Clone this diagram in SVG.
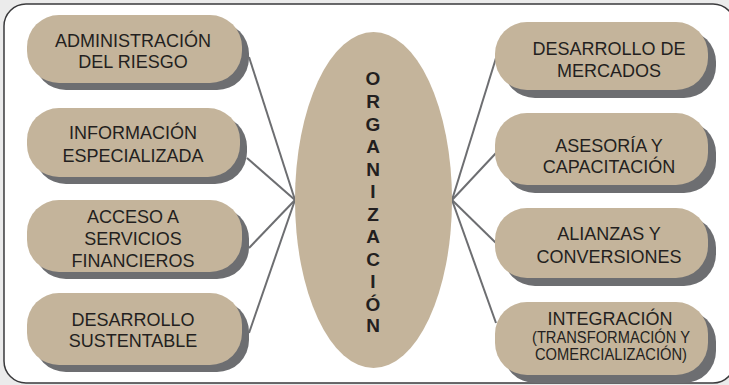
<svg xmlns="http://www.w3.org/2000/svg" width="729" height="385" viewBox="0 0 729 385">
<defs>
<style>
.bg{fill:#ebebeb}
.frame{fill:#ffffff;stroke:#3a3a3c;stroke-width:1.5}
.shadow{fill:#6d6e71}
.pill{fill:#c4b49b}
.lbl{font-family:"Liberation Sans",Arial,sans-serif;font-size:18px;fill:#231f20;text-anchor:middle}
.sm{font-size:16px}
.vert{font-family:"Liberation Sans",Arial,sans-serif;font-size:19px;font-weight:bold;fill:#231f20;text-anchor:middle}
.conn{stroke:#6d6e71;stroke-width:2;fill:none}
</style>
</defs>
<rect class="bg" x="0" y="0" width="729" height="385"/>
<rect class="frame" x="4" y="4" width="731" height="379" rx="22"/>
<g id="connectors">
<line class="conn" x1="249" y1="57" x2="295" y2="200"/>
<line class="conn" x1="247" y1="158" x2="295" y2="200"/>
<line class="conn" x1="249" y1="248" x2="295" y2="200"/>
<line class="conn" x1="249" y1="333" x2="295" y2="200"/>
<line class="conn" x1="452" y1="200" x2="496" y2="58"/>
<line class="conn" x1="452" y1="200" x2="496" y2="153"/>
<line class="conn" x1="452" y1="200" x2="496" y2="243"/>
<line class="conn" x1="452" y1="200" x2="496" y2="323"/>
</g>
<g id="organizacion">
<ellipse class="pill" cx="373.5" cy="200" rx="78.5" ry="168"/>
<text class="vert" x="373" y="85">O</text>
<text class="vert" x="373" y="108">R</text>
<text class="vert" x="373" y="131">G</text>
<text class="vert" x="373" y="153">A</text>
<text class="vert" x="373" y="176">N</text>
<text class="vert" x="373" y="198">I</text>
<text class="vert" x="373" y="221">Z</text>
<text class="vert" x="373" y="243">A</text>
<text class="vert" x="373" y="266">C</text>
<text class="vert" x="373" y="288">I</text>
<text class="vert" x="373" y="311">Ó</text>
<text class="vert" x="373" y="332">N</text>
</g>
<g id="administracion">
<rect class="shadow" x="34" y="22" width="215" height="68" rx="32"/>
<rect class="pill" x="27" y="15" width="215" height="68" rx="32"/>
<text class="lbl" x="133" y="47">ADMINISTRACIÓN</text>
<text class="lbl" x="133" y="68">DEL RIESGO</text>
</g>
<g id="informacion">
<rect class="shadow" x="34" y="115" width="213" height="69" rx="32"/>
<rect class="pill" x="27" y="108" width="213" height="69" rx="32"/>
<text class="lbl" x="133" y="139">INFORMACIÓN</text>
<text class="lbl" x="133" y="162">ESPECIALIZADA</text>
</g>
<g id="acceso">
<rect class="shadow" x="34" y="207" width="215" height="72" rx="32"/>
<rect class="pill" x="27" y="200" width="215" height="72" rx="32"/>
<text class="lbl" x="133" y="223">ACCESO A</text>
<text class="lbl" x="133" y="245">SERVICIOS</text>
<text class="lbl" x="133" y="267">FINANCIEROS</text>
</g>
<g id="sustentable">
<rect class="shadow" x="34" y="300" width="215" height="72" rx="32"/>
<rect class="pill" x="27" y="293" width="215" height="72" rx="32"/>
<text class="lbl" x="133" y="326">DESARROLLO</text>
<text class="lbl" x="133" y="347">SUSTENTABLE</text>
</g>
<g id="mercados">
<rect class="shadow" x="503" y="30" width="213" height="68" rx="32"/>
<rect class="pill" x="495" y="22" width="213" height="68" rx="32"/>
<text class="lbl" x="609" y="55">DESARROLLO DE</text>
<text class="lbl" x="609" y="77">MERCADOS</text>
</g>
<g id="asesoria">
<rect class="shadow" x="503" y="121" width="213" height="72" rx="32"/>
<rect class="pill" x="495" y="113" width="213" height="72" rx="32"/>
<text class="lbl" x="609" y="152">ASESORÍA Y</text>
<text class="lbl" x="609" y="173">CAPACITACIÓN</text>
</g>
<g id="alianzas">
<rect class="shadow" x="503" y="216" width="213" height="70" rx="32"/>
<rect class="pill" x="495" y="208" width="213" height="70" rx="32"/>
<text class="lbl" x="609" y="240">ALIANZAS Y</text>
<text class="lbl" x="609" y="263">CONVERSIONES</text>
</g>
<g id="integracion">
<rect class="shadow" x="503" y="310" width="213" height="73" rx="32"/>
<rect class="pill" x="495" y="302" width="213" height="73" rx="32"/>
<text class="lbl" x="610" y="325">INTEGRACIÓN</text>
<text class="lbl sm" x="611" y="343" textLength="158" lengthAdjust="spacingAndGlyphs">(TRANSFORMACIÓN Y</text>
<text class="lbl sm" x="611" y="360" textLength="152" lengthAdjust="spacingAndGlyphs">COMERCIALIZACIÓN)</text>
</g>
</svg>
